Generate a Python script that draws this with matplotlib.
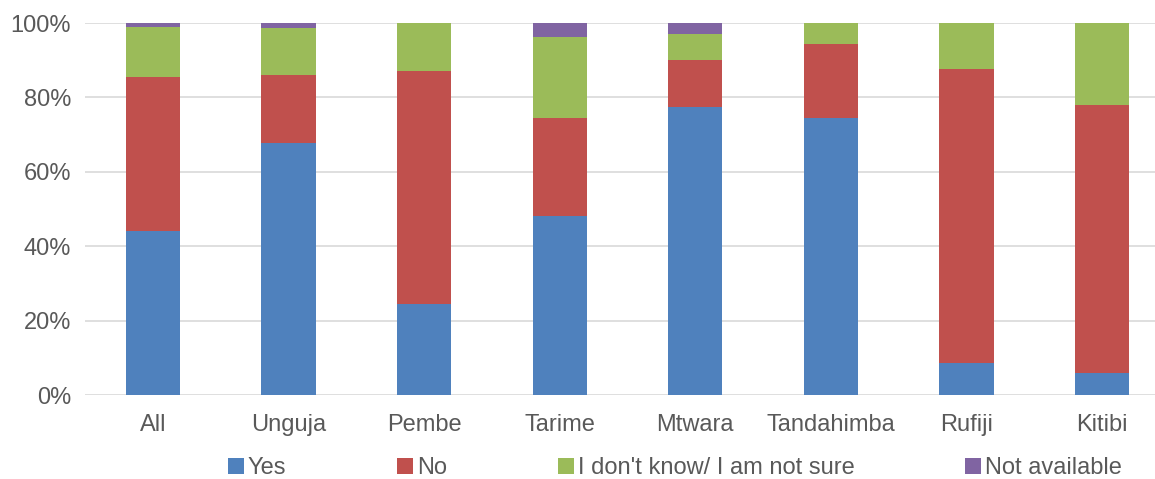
import matplotlib
matplotlib.use("Agg")
import matplotlib.pyplot as plt
import numpy as np
from matplotlib.patches import Patch

categories = ["All", "Unguja", "Pembe", "Tarime", "Mtwara", "Tandahimba", "Rufiji", "Kitibi"]
yes = [44.1, 67.7, 24.5, 48.1, 77.4, 74.5, 8.6, 5.9]
no = [41.4, 18.3, 62.6, 26.4, 12.7, 19.9, 79.0, 72.1]
dont_know = [13.4, 12.7, 12.9, 21.7, 6.9, 5.6, 12.4, 22.0]
not_available = [1.1, 1.3, 0.0, 3.8, 3.0, 0.0, 0.0, 0.0]
series_names = ["Yes", "No", "I don't know/ I am not sure", "Not available"]
yticks = [0, 20, 40, 60, 80, 100]

colors = ["#4F81BD", "#C0504D", "#9BBB59", "#8064A2"]
plt.rcParams['font.family'] = ['Liberation Sans', 'DejaVu Sans']
FS = 17

fig = plt.figure(figsize=(11.55, 4.79), dpi=100)
ax = fig.add_axes([85/1155, 1-395/479, 1-85/1155, (395-23)/479])

x = np.arange(len(categories))
bottom = np.zeros(len(categories))
for vals, c in zip([yes, no, dont_know, not_available], colors):
    ax.bar(x, vals, bottom=bottom, width=0.4, color=c, zorder=3)
    bottom += np.array(vals)

ax.set_ylim(0, 100)
ax.set_xlim(-0.5, 7.39)
ax.set_yticks(yticks)
ax.set_yticklabels([f"{v}%" for v in yticks])
ax.set_xticks(x)
ax.set_xticklabels(categories)
ax.tick_params(axis='both', length=0, labelsize=FS, colors="#595959")
ax.tick_params(axis='x', pad=14)
ax.tick_params(axis='y', pad=10)
ax.grid(axis='y', color="#D9D9D9", linewidth=1.2, zorder=0)
for s in ax.spines.values():
    s.set_visible(False)

handles = [Patch(facecolor=c, label=n) for c, n in zip(colors, series_names)]
fig.legend(handles=handles, loc='center', bbox_to_anchor=(675/1155, 1-468/479), ncol=4,
           frameon=False, fontsize=FS, handlelength=0.68, handleheight=0.68,
           handletextpad=0.15, columnspacing=4.7, labelcolor="#595959",
           borderpad=0, borderaxespad=0)

fig.savefig("out.png", dpi=100)
